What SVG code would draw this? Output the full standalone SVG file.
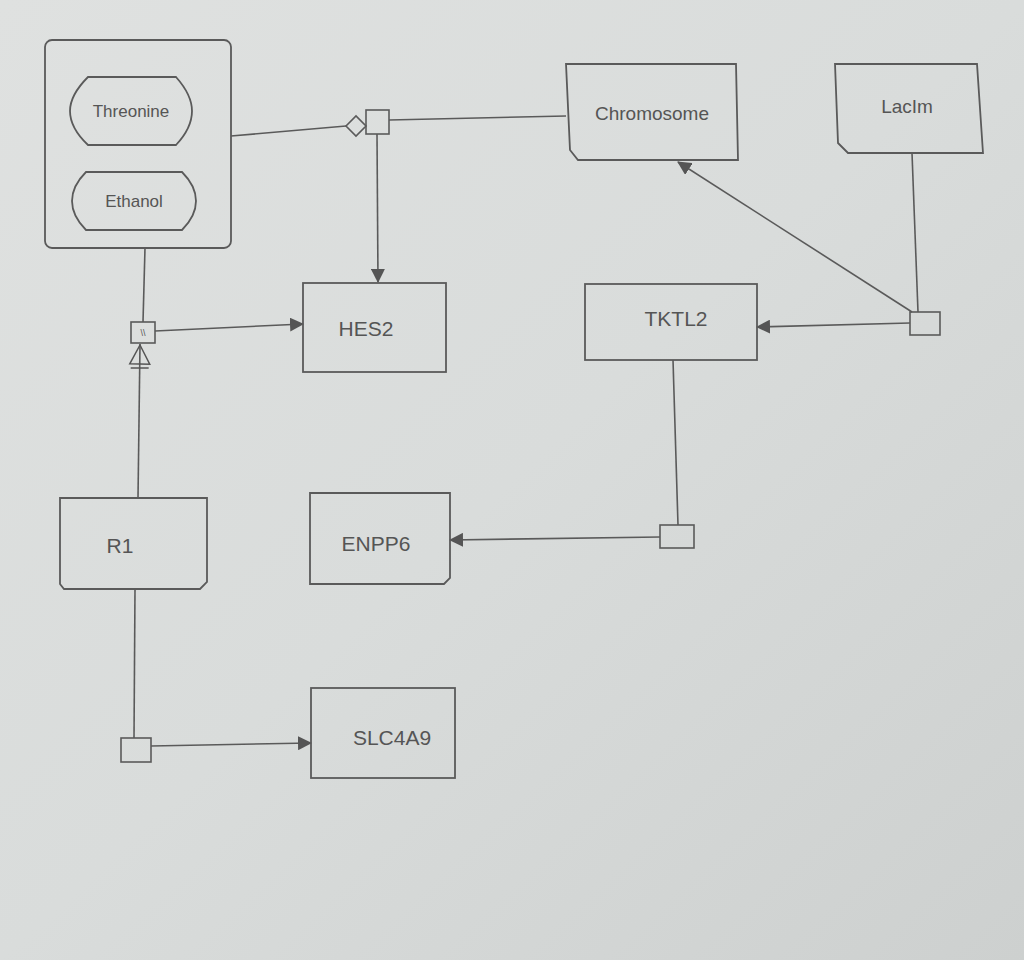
<svg xmlns="http://www.w3.org/2000/svg" width="1024" height="960" viewBox="0 0 1024 960">
<defs>
<linearGradient id="bg" x1="0" y1="0" x2="1" y2="1">
<stop offset="0" stop-color="#dfe1e0"/>
<stop offset="0.5" stop-color="#d9dcdb"/>
<stop offset="1" stop-color="#cdd0cf"/>
</linearGradient>
<marker id="arr" viewBox="0 0 14 14" refX="13" refY="7" markerWidth="14" markerHeight="14" markerUnits="userSpaceOnUse" orient="auto">
<path d="M0,0 L14,7 L0,14 Z" fill="#555"/>
</marker>
<marker id="nec" viewBox="0 0 26 24" refX="25" refY="12" markerWidth="26" markerHeight="24" markerUnits="userSpaceOnUse" orient="auto">
<path d="M1,3 L1,21 M5,2 L24,12 L5,22 Z" fill="none" stroke="#555" stroke-width="1.5"/>
</marker>
</defs>
<style>
.box{fill:none;stroke:#5a5a5a;stroke-width:1.8}
.ln{fill:none;stroke:#5a5a5a;stroke-width:1.6}
.t{font-family:"Liberation Sans",sans-serif;fill:#555;text-anchor:middle;dominant-baseline:central}
.pn{fill:none;stroke:#5a5a5a;stroke-width:1.6}
</style>
<rect width="1024" height="960" fill="url(#bg)"/>

<g id="connectors">
<path class="ln" d="M231,136 L346,126"/>
<path class="ln" d="M389,120 L566,116"/>
<path class="ln" d="M377,134 L378,282" marker-end="url(#arr)"/>
<path class="ln" d="M912,153 L918,312"/>
<path class="ln" d="M912,312 L678,162" marker-end="url(#arr)"/>
<path class="ln" d="M910,323 L757,327" marker-end="url(#arr)"/>
<path class="ln" d="M673,360 L678,525"/>
<path class="ln" d="M660,537 L450,540" marker-end="url(#arr)"/>
<path class="ln" d="M145,248 L143,322"/>
<path class="ln" d="M155,331 L303,324" marker-end="url(#arr)"/>
<path class="ln" d="M138,498 L140,344" marker-end="url(#nec)"/>
<path class="ln" d="M135,589 L134,738"/>
<path class="ln" d="M151,746 L311,743" marker-end="url(#arr)"/>
</g>

<g id="complex">
<rect class="box" x="45" y="40" width="186" height="208" rx="7"/>
</g>
<g id="threonine">
<path class="box" d="M88,77 L176,77 Q192,95 192,111 Q192,128 176,145 L88,145 Q70,128 70,111 Q70,95 88,77 Z"/>
<text class="t" x="131" y="111" font-size="17">Threonine</text>
</g>
<g id="ethanol">
<path class="box" d="M86,172 L182,172 Q196,186 196,201 Q196,216 182,230 L86,230 Q72,216 72,201 Q72,186 86,172 Z"/>
<text class="t" x="134" y="201" font-size="17">Ethanol</text>
</g>

<g id="process1">
<path class="pn" d="M346,126 L356,116 L366,126 L356,136 Z"/>
<rect class="pn" x="366" y="110" width="23" height="24"/>
</g>

<g id="chromosome">
<path class="box" d="M566,64 L736,64 L738,160 L578,160 L570,150 Z"/>
<text class="t" x="652" y="113" font-size="19">Chromosome</text>
</g>

<g id="lacim">
<path class="box" d="M835,64 L977,64 L983,153 L848,153 L838,143 Z"/>
<text class="t" x="907" y="106" font-size="19">LacIm</text>
</g>

<g id="process2">
<rect class="pn" x="910" y="312" width="30" height="23"/>
</g>

<g id="tktl2">
<rect class="box" x="585" y="284" width="172" height="76"/>
<text class="t" x="676" y="318" font-size="21">TKTL2</text>
</g>

<g id="hes2">
<rect class="box" x="303" y="283" width="143" height="89"/>
<text class="t" x="366" y="328" font-size="21">HES2</text>
</g>

<g id="omitted">
<rect class="pn" x="131" y="322" width="24" height="21"/>
<text class="t" x="143" y="333" font-size="9">\\</text>
</g>

<g id="process3">
<rect class="pn" x="660" y="525" width="34" height="23"/>
</g>

<g id="enpp6">
<path class="box" d="M310,493 L450,493 L450,578 L444,584 L310,584 Z"/>
<text class="t" x="376" y="543" font-size="21">ENPP6</text>
</g>

<g id="r1">
<path class="box" d="M60,498 L207,498 L207,582 L200,589 L64,589 L60,584 Z"/>
<text class="t" x="120" y="545" font-size="21">R1</text>
</g>

<g id="process4">
<rect class="pn" x="121" y="738" width="30" height="24"/>
</g>

<g id="slc4a9">
<rect class="box" x="311" y="688" width="144" height="90"/>
<text class="t" x="392" y="737" font-size="21">SLC4A9</text>
</g>
</svg>
